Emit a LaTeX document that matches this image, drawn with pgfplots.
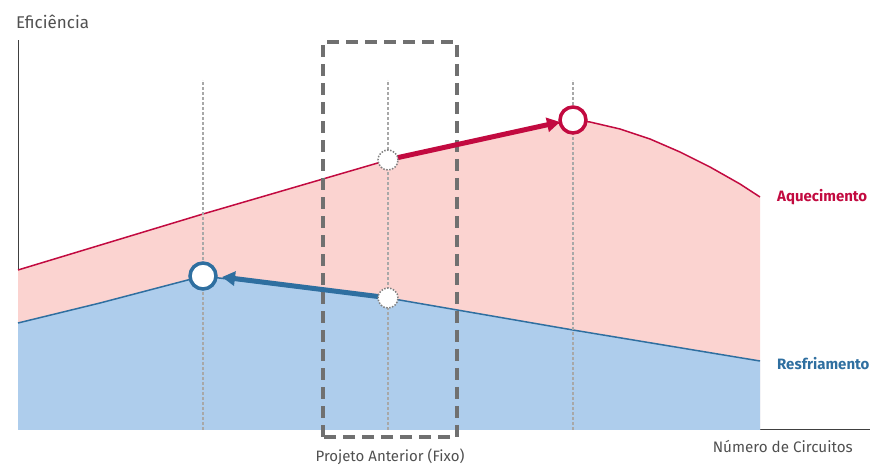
\documentclass[border=0pt]{standalone}
\usepackage{pgfplots}
\pgfplotsset{compat=1.18}
\usepackage{fontspec}
\setmainfont{Fira Sans}
\usetikzlibrary{arrows.meta}
\definecolor{redline}{HTML}{C20A40}
\definecolor{redfill}{HTML}{FBD3D0}
\definecolor{blueline}{HTML}{2F6FA0}
\definecolor{bluefill}{HTML}{AECDEC}
\definecolor{boxgray}{HTML}{707070}
\definecolor{vgray}{HTML}{A8A8A8}
\definecolor{txtgray}{HTML}{505050}
\begin{document}
\begin{tikzpicture}
\begin{axis}[
  scale only axis, width=852pt, height=390pt,
  xmin=18, xmax=870, ymin=0, ymax=390,
  axis x line=bottom, axis y line=left,
  axis line style={-, draw=black!75, line width=1pt},
  ticks=none, clip=false,
]
\path (axis cs:0,-35) rectangle (axis cs:874,430);
% fills
\addplot[draw=none, fill=redfill] coordinates {(18,160) (203,216) (388,270) (573,310) (590,308) (620,301) (650,291) (680,278) (710,263) (740,246) (760,233)} \closedcycle;
\addplot[draw=none, fill=bluefill] coordinates {(18,107) (100,127) (203,154) (300,142) (388,132) (573,100) (760,69)} \closedcycle;
% lines
\addplot[redline, line width=1.5pt] coordinates {(18,160) (203,216) (388,270) (573,310) (590,308) (620,301) (650,291) (680,278) (710,263) (740,246) (760,233)};
\addplot[blueline, line width=1.5pt] coordinates {(18,107) (100,127) (203,154) (300,142) (388,132) (573,100) (760,69)};
% vertical guides
\addplot[vgray, line width=1.2pt, dash pattern=on 3pt off 2pt] coordinates {(203,0) (203,350)};
\addplot[vgray, line width=1.2pt, dash pattern=on 3pt off 2pt] coordinates {(388,0) (388,350)};
\addplot[vgray, line width=1.2pt, dash pattern=on 3pt off 2pt] coordinates {(573,0) (573,350)};
% dashed box
\draw[boxgray, line width=3.5pt, dash pattern=on 12pt off 7pt] (axis cs:323,-7) rectangle (axis cs:457,388);
% arrows
\addplot[redline, line width=5pt, -{Triangle[length=13pt,width=14pt]}] coordinates {(396,272) (560,308)};
\addplot[blueline, line width=5pt, -{Triangle[length=13pt,width=14pt]}] coordinates {(382,133) (222,153)};
% points
\addplot[only marks, mark=*, mark size=10pt, mark options={fill=white, draw=gray, line width=1.5pt, dash pattern=on 1.5pt off 1.5pt}] coordinates {(388,270) (388,132)};
\addplot[only marks, mark=*, mark size=13pt, mark options={fill=white, draw=redline, line width=3.5pt}] coordinates {(573,310)};
\addplot[only marks, mark=*, mark size=13pt, mark options={fill=white, draw=blueline, line width=3.5pt}] coordinates {(203,154)};
% labels
\node[anchor=west, text=txtgray, font=\fontsize{17}{19}\selectfont, inner sep=0pt] at (axis cs:16,408) {Eficiência};
\node[anchor=east, text=txtgray, font=\fontsize{15.2}{17}\selectfont, inner sep=0pt] at (axis cs:853,-17) {Número de Circuitos};
\node[anchor=center, text=txtgray, font=\fontsize{15}{17}\selectfont, inner sep=0pt] at (axis cs:390,-27) {Projeto Anterior (Fixo)};
\node[anchor=west, text=redline, font=\bfseries\fontsize{15}{17}\selectfont, inner sep=0pt] at (axis cs:777,233) {Aquecimento};
\node[anchor=west, text=blueline, font=\bfseries\fontsize{15}{17}\selectfont, inner sep=0pt] at (axis cs:777,66) {Resfriamento};
\end{axis}
\end{tikzpicture}
\end{document}
